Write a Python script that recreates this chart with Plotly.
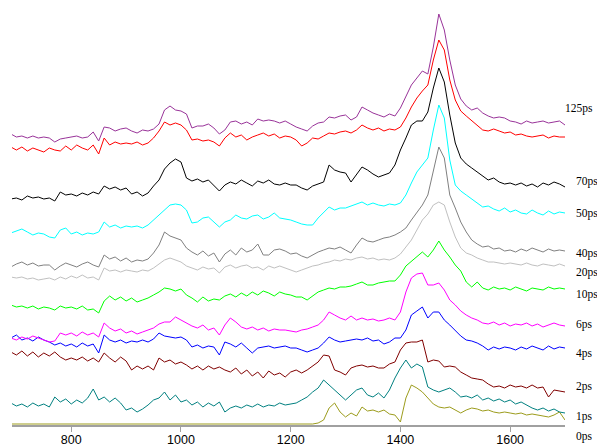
import plotly.graph_objects as go

wavenumber = [690, 700, 710, 720, 730, 740, 750, 760, 770, 780,
              790, 800, 810, 820, 830, 840, 850, 860, 870, 880,
              890, 900, 910, 920, 930, 940, 950, 960, 970, 980,
              990, 1000, 1010, 1020, 1030, 1040, 1050, 1060, 1070, 1080,
              1090, 1100, 1110, 1120, 1130, 1140, 1150, 1160, 1170, 1180,
              1190, 1200, 1210, 1220, 1230, 1240, 1250, 1260, 1270, 1280,
              1290, 1300, 1310, 1320, 1330, 1340, 1350, 1360, 1370, 1380,
              1390, 1400, 1410, 1420, 1430, 1440, 1450, 1460, 1470, 1480,
              1490, 1500, 1510, 1520, 1530, 1540, 1550, 1560, 1570, 1580,
              1590, 1600, 1610, 1620, 1630, 1640, 1650, 1660, 1670, 1680,
              1690, 1700]

s125ps = [291, 288, 289, 287, 289, 287, 288, 287, 283, 286,
          287, 288, 289, 287, 288, 293, 284, 298, 297, 294,
          296, 297, 294, 292, 295, 294, 296, 301, 315, 319,
          315, 314, 311, 297, 299, 299, 301, 297, 291, 295,
          303, 304, 301, 303, 300, 306, 304, 305, 304, 302,
          304, 301, 298, 296, 294, 299, 302, 303, 308, 307,
          309, 310, 305, 308, 318, 315, 312, 310, 308, 311,
          309, 317, 328, 340, 347, 354, 351, 378, 411, 395,
          365, 340, 326, 319, 315, 317, 312, 309, 307, 308,
          307, 304, 303, 301, 304, 302, 303, 304, 302, 303,
          304, 300]

s100ps = [278, 275, 278, 274, 277, 275, 273, 277, 275, 274,
          279, 275, 280, 277, 275, 280, 271, 287, 280, 283,
          281, 282, 281, 283, 280, 282, 287, 294, 303, 300,
          302, 300, 295, 285, 286, 284, 285, 283, 279, 287,
          292, 288, 290, 285, 288, 290, 292, 289, 291, 287,
          289, 288, 285, 279, 282, 287, 286, 289, 292, 291,
          293, 294, 292, 295, 300, 297, 295, 297, 294, 296,
          295, 298, 307, 318, 327, 334, 340, 365, 385, 375,
          345, 325, 314, 309, 304, 300, 295, 294, 296, 294,
          292, 293, 290, 291, 289, 288, 289, 290, 287, 289,
          288, 288]

s70ps = [226, 227, 225, 229, 227, 228, 226, 227, 224, 233,
         230, 231, 229, 232, 230, 233, 231, 239, 236, 238,
         235, 237, 231, 233, 229, 232, 239, 245, 256, 262,
         266, 263, 247, 244, 246, 243, 245, 240, 234, 240,
         243, 241, 245, 242, 239, 244, 242, 245, 241, 240,
         242, 240, 240, 237, 235, 239, 241, 243, 260, 255,
         253, 252, 243, 250, 258, 255, 251, 248, 250, 252,
         260, 275, 287, 300, 304, 304, 313, 337, 357, 343,
         310, 282, 267, 261, 257, 253, 249, 245, 247, 243,
         241, 242, 240, 242, 239, 241, 238, 242, 240, 243,
         241, 238]

s50ps = [192, 194, 196, 193, 190, 192, 191, 188, 187, 195,
         197, 191, 193, 190, 192, 191, 193, 203, 198, 200,
         197, 199, 198, 199, 197, 200, 205, 211, 215, 220,
         221, 220, 215, 202, 203, 207, 208, 203, 198, 203,
         205, 210, 207, 206, 209, 210, 206, 208, 212, 207,
         206, 205, 203, 201, 200, 200, 207, 213, 218, 215,
         217, 217, 219, 221, 223, 220, 222, 220, 219, 221,
         220, 222, 230, 242, 253, 260, 267, 295, 320, 307,
         265, 240, 234, 230, 226, 222, 218, 219, 216, 214,
         217, 213, 215, 212, 211, 215, 212, 210, 214, 211,
         213, 212]

s40ps = [158, 161, 163, 160, 162, 159, 160, 160, 155, 159,
         162, 160, 158, 161, 163, 160, 158, 170, 166, 168,
         164, 167, 163, 165, 164, 166, 172, 180, 193, 189,
         187, 185, 177, 173, 170, 174, 169, 172, 163, 171,
         175, 170, 177, 173, 175, 181, 170, 170, 175, 176,
         174, 171, 172, 169, 167, 170, 173, 175, 177, 176,
         178, 175, 172, 180, 187, 184, 183, 185, 187, 188,
         190, 193, 197, 205, 213, 220, 230, 255, 278, 267,
         230, 217, 203, 193, 185, 181, 178, 179, 176, 177,
         174, 175, 173, 176, 174, 177, 175, 173, 176, 174,
         175, 174]

s20ps = [148, 147, 148, 146, 147, 145, 146, 147, 145, 148,
         146, 149, 147, 150, 147, 148, 145, 157, 154, 155,
         153, 155, 154, 153, 155, 154, 157, 161, 165, 167,
         165, 163, 159, 157, 155, 158, 156, 157, 152, 158,
         160, 157, 159, 160, 157, 158, 155, 159, 157, 159,
         157, 155, 153, 155, 157, 159, 160, 162, 163, 165,
         164, 166, 165, 167, 168, 166, 167, 165, 166, 165,
         167, 171, 178, 185, 195, 205, 211, 220, 223, 220,
         203, 188, 177, 172, 170, 167, 165, 163, 163, 162,
         161, 162, 161, 160, 162, 160, 159, 161, 160, 159,
         161, 159]

s10ps = [120, 118, 119, 117, 119, 116, 118, 117, 115, 119,
         117, 118, 116, 119, 115, 116, 112, 124, 129, 125,
         128, 124, 127, 123, 125, 127, 130, 133, 137, 136,
         134, 136, 130, 127, 123, 128, 124, 126, 125, 129,
         131, 128, 132, 129, 133, 130, 134, 132, 129, 133,
         131, 130, 128, 128, 125, 129, 133, 135, 137, 136,
         138, 138, 139, 141, 143, 140, 140, 142, 143, 144,
         144, 150, 159, 164, 169, 173, 168, 175, 184, 175,
         168, 160, 154, 143, 138, 143, 137, 135, 138, 136,
         137, 135, 138, 136, 134, 137, 136, 135, 138, 136,
         137, 136]

s6ps = [87, 85, 88, 86, 89, 87, 85, 83, 84, 92,
        90, 92, 89, 93, 90, 92, 88, 102, 97, 94,
        96, 92, 94, 91, 93, 95, 97, 101, 103, 103,
        108, 105, 102, 99, 97, 100, 95, 97, 90, 100,
        107, 103, 98, 96, 98, 95, 97, 94, 96, 95,
        95, 94, 93, 95, 96, 98, 100, 105, 113, 110,
        107, 105, 109, 105, 107, 105, 106, 104, 105, 107,
        105, 113, 133, 147, 151, 152, 140, 140, 142, 135,
        125, 120, 114, 110, 107, 105, 102, 101, 103, 100,
        102, 99, 101, 100, 102, 99, 101, 98, 100, 102,
        100, 99]

s4ps = [87, 90, 85, 87, 84, 88, 85, 83, 80, 82,
        79, 81, 78, 82, 79, 81, 72, 90, 85, 83,
        85, 82, 84, 83, 85, 83, 86, 92, 89, 88,
        87, 88, 85, 78, 80, 77, 79, 78, 70, 83,
        81, 78, 82, 77, 72, 77, 78, 79, 77, 78,
        79, 77, 77, 75, 73, 75, 77, 82, 88, 85,
        83, 84, 85, 86, 85, 87, 84, 85, 81, 83,
        87, 87, 95, 110, 114, 118, 107, 113, 113, 105,
        100, 94, 89, 85, 84, 82, 79, 75, 78, 76,
        78, 77, 75, 78, 76, 79, 77, 75, 79, 76,
        78, 77]

s2ps = [73, 70, 74, 69, 73, 68, 72, 69, 73, 68,
        65, 67, 65, 68, 64, 67, 63, 72, 67, 63,
        68, 64, 55, 59, 56, 59, 55, 67, 63, 65,
        61, 63, 60, 56, 59, 55, 59, 56, 58, 55,
        53, 57, 51, 55, 49, 53, 47, 54, 50, 52,
        48, 53, 55, 52, 55, 59, 63, 70, 69, 55,
        53, 50, 57, 59, 60, 58, 59, 57, 57, 61,
        63, 75, 82, 83, 83, 85, 63, 65, 64, 58,
        59, 58, 53, 50, 47, 46, 45, 41, 38, 39,
        37, 40, 38, 39, 37, 40, 37, 38, 28, 35,
        34, 33]

s1ps = [22, 19, 21, 18, 22, 19, 21, 18, 28, 23,
        26, 21, 25, 22, 27, 36, 25, 28, 23, 27,
        22, 15, 17, 13, 16, 20, 25, 27, 33, 25,
        30, 23, 25, 20, 23, 18, 22, 19, 23, 13,
        17, 19, 17, 20, 18, 21, 18, 20, 19, 22,
        20, 21, 22, 25, 28, 33, 37, 45, 40, 35,
        30, 25, 30, 35, 37, 30, 28, 32, 27, 35,
        47, 57, 65, 57, 61, 58, 38, 35, 33, 35,
        37, 33, 28, 29, 27, 30, 25, 27, 24, 26,
        23, 25, 21, 23, 20, 17, 15, 17, 14, 16,
        13, 12]

s0ps = [1, 1, 1, 1, 1, 1, 1, 1, 1, 1,
        1, 1, 1, 1, 1, 1, 1, 1, 1, 1,
        1, 1, 1, 1, 1, 1, 1, 1, 1, 1,
        1, 1, 1, 1, 1, 1, 1, 1, 1, 1,
        1, 1, 1, 1, 1, 1, 1, 1, 1, 1,
        1, 1, 1, 1, 1, 1, 2, 5, 17, 22,
        13, 8, 12, 9, 18, 14, 15, 13, 15, 11,
        10, 3, 27, 40, 37, 33, 27, 21, 18, 17,
        18, 15, 12, 15, 17, 16, 14, 15, 13, 12,
        13, 12, 11, 12, 10, 11, 10, 9, 8, 10,
        13, 5]

series = [
    (s0ps, "#9c9c1c"),
    (s1ps, "#008080"),
    (s2ps, "#800000"),
    (s4ps, "#0000ff"),
    (s6ps, "#ff00ff"),
    (s10ps, "#00ff00"),
    (s20ps, "#c0c0c0"),
    (s40ps, "#808080"),
    (s50ps, "#00ffff"),
    (s70ps, "#000000"),
    (s100ps, "#ff0000"),
    (s125ps, "#993399"),
]

Y_MAX = 420
labels = ["125ps", "70ps", "50ps", "40ps", "20ps", "10ps", "6ps", "4ps", "2ps", "1ps", "0ps"]
label_y = [317, 243, 212, 172, 153, 131, 101, 72, 39, 9, -12]
label_x = [0.996, 1.017, 1.017, 1.017, 1.017, 1.017, 1.017, 1.017, 1.017, 1.017, 1.017]

tick_vals = [800, 1000, 1200, 1400, 1600]

fig = go.Figure()
for vals, col in series:
    fig.add_trace(go.Scatter(x=wavenumber, y=vals, mode="lines",
                             line=dict(color=col, width=1), showlegend=False,
                             hoverinfo="skip"))

for t, yv, xv in zip(labels, label_y, label_x):
    fig.add_annotation(text=t, x=xv, xref="paper", y=yv / Y_MAX, yref="paper",
                       xanchor="left", yanchor="middle", showarrow=False,
                       font=dict(family="Liberation Serif, Times New Roman, serif",
                                 size=11.5, color="#000000"))

fig.update_layout(
    width=597, height=448,
    margin=dict(l=12, r=32, t=5, b=23, autoexpand=False),
    paper_bgcolor="white", plot_bgcolor="white",
    xaxis=dict(range=[692, 1700], showgrid=False, zeroline=False, automargin=False,
               showline=True, linecolor="#a0a0a0", linewidth=1.5,
               ticks="outside", ticklen=5, tickcolor="#a0a0a0", tickwidth=1,
               tickvals=tick_vals, ticktext=[str(v) for v in tick_vals],
               layer="below traces", ticklabelstandoff=-3,
               tickfont=dict(family="Liberation Sans Narrow, Arial Narrow, Liberation Sans, Arial",
                             size=12.5, color="#000000")),
    yaxis=dict(range=[0, Y_MAX], visible=False, showgrid=False, zeroline=False,
               automargin=False),
)

fig.write_html("out.html",
               config={"displayModeBar": False},
               post_script="document.body.style.margin='0';document.body.style.overflow='hidden';")
